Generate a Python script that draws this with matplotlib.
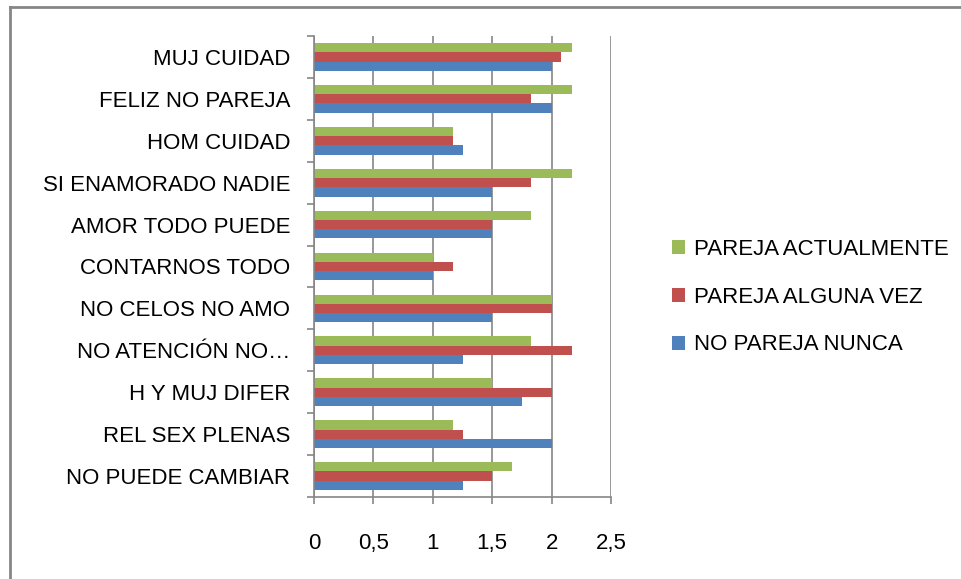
import matplotlib
matplotlib.use('Agg')
import matplotlib.pyplot as plt
from matplotlib.lines import Line2D
import numpy as np

# Datos (de abajo hacia arriba)
categorias = ['NO PUEDE CAMBIAR', 'REL SEX PLENAS', 'H Y MUJ DIFER', 'NO ATENCIÓN NO…',
              'NO CELOS NO AMO', 'CONTARNOS TODO', 'AMOR TODO PUEDE',
              'SI ENAMORADO NADIE', 'HOM CUIDAD', 'FELIZ NO PAREJA', 'MUJ CUIDAD']
no_pareja_nunca = [1.25, 2.0, 1.75, 1.25, 1.5, 1.0, 1.5, 1.5, 1.25, 2.0, 2.0]
pareja_alguna_vez = [1.5, 1.25, 2.0, 2.17, 2.0, 1.17, 1.5, 1.83, 1.17, 1.83, 2.08]
pareja_actualmente = [1.67, 1.17, 1.5, 1.83, 2.0, 1.0, 1.83, 2.17, 1.17, 2.17, 2.17]
xticks = [0, 0.5, 1, 1.5, 2, 2.5]
xlabels = ['0', '0,5', '1', '1,5', '2', '2,5']

azul = '#4F81BD'
rojo = '#C0504D'
verde = '#9BBB59'
gris = '#868686'

plt.rcParams['font.family'] = ['Liberation Sans', 'DejaVu Sans']

fig = plt.figure(figsize=(9.61, 5.79), dpi=100)
ax = fig.add_axes([314 / 961, 82 / 579, 297 / 961, 461 / 579])

y = np.arange(len(categorias))
h = 0.22
b1 = ax.barh(y - h, no_pareja_nunca, h, color=azul, label='NO PAREJA NUNCA')
b2 = ax.barh(y, pareja_alguna_vez, h, color=rojo, label='PAREJA ALGUNA VEZ')
b3 = ax.barh(y + h, pareja_actualmente, h, color=verde, label='PAREJA ACTUALMENTE')

ax.set_xlim(0, 2.5)
ax.set_ylim(-0.5, len(categorias) - 0.5)
ax.set_xticks(xticks)
ax.set_xticklabels(xlabels, fontsize=16)
ax.xaxis.grid(True, color=gris, linewidth=1.2)
ax.set_axisbelow(True)

# ticks del eje y en los limites, etiquetas en el centro
ax.set_yticks(np.arange(-0.5, len(categorias), 1))
ax.set_yticklabels([])
ax.set_yticks(y, minor=True)
ax.set_yticklabels(categorias, minor=True, fontsize=16)
ax.tick_params(axis='y', which='major', length=5, color=gris, width=1.2)
ax.tick_params(axis='y', which='minor', length=0, pad=17)
ax.tick_params(axis='x', length=5, color=gris, width=1.2, pad=21)

for s in ['top', 'right']:
    ax.spines[s].set_visible(False)
for s in ['left', 'bottom']:
    ax.spines[s].set_color(gris)
    ax.spines[s].set_linewidth(1.2)

fig.legend(handles=[b3, b2, b1], loc='upper left',
           bbox_to_anchor=(661 / 961, 1 - 228 / 579), frameon=False,
           fontsize=16, handlelength=0.6, handleheight=0.6,
           handletextpad=0.4, labelspacing=1.2, borderpad=0)

# marco recortado (solo arriba e izquierda)
fig.add_artist(Line2D([10 / 961, 1], [1 - 7 / 579, 1 - 7 / 579], color=gris, linewidth=2,
                      transform=fig.transFigure))
fig.add_artist(Line2D([10 / 961, 10 / 961], [0, 1 - 7 / 579], color=gris, linewidth=2,
                      transform=fig.transFigure))

fig.savefig('out.png', dpi=100)
